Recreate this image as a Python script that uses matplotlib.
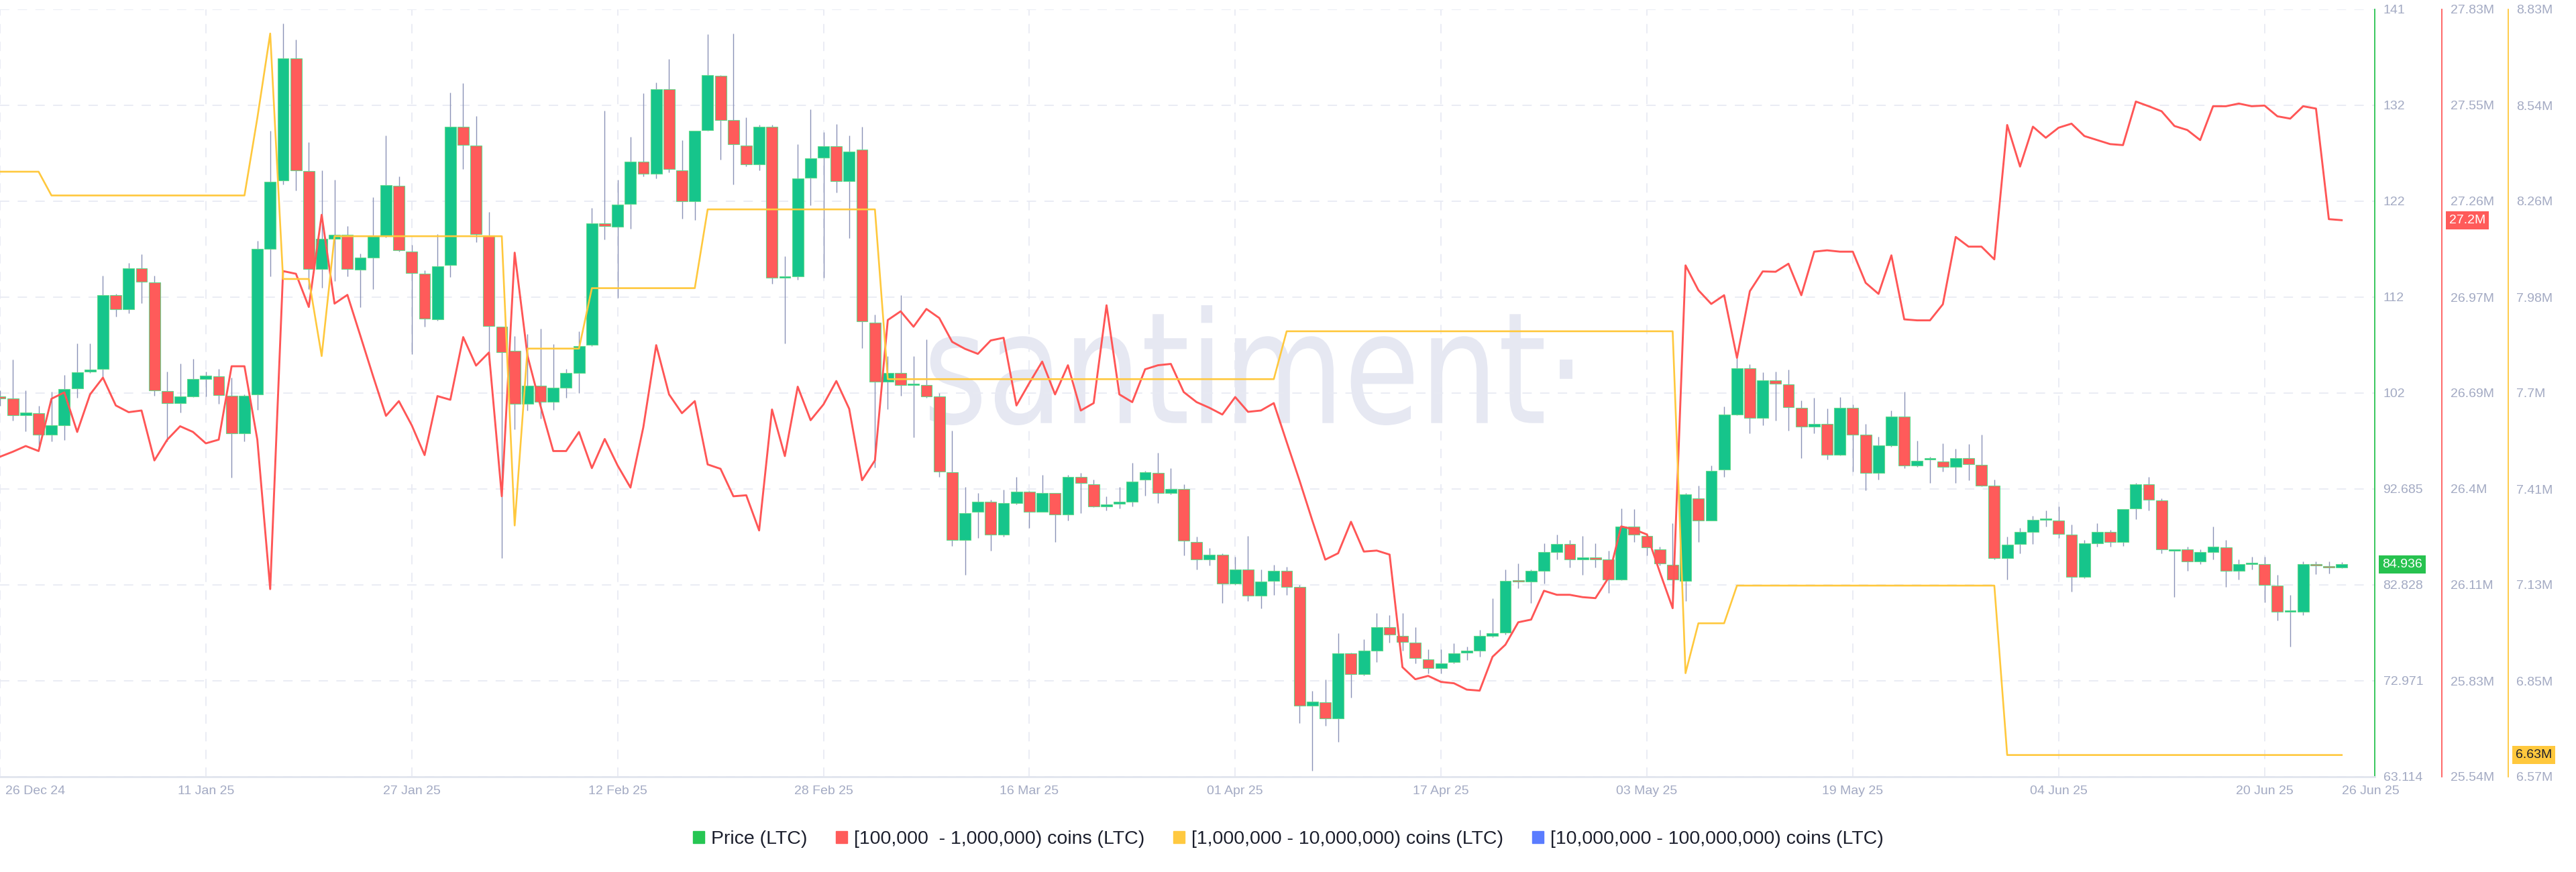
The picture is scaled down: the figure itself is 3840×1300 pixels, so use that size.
import matplotlib
matplotlib.use("Agg")
import matplotlib.pyplot as plt
import matplotlib.dates as mdates
import matplotlib.transforms as mtransforms
from matplotlib.patches import Patch, PathPatch
from matplotlib.textpath import TextPath
from matplotlib.font_manager import FontProperties
import numpy as np
import pandas as pd

# ---- data (daily, 26 Dec 24 .. 26 Jun 25) ----
dates = pd.date_range("2024-12-26", "2025-06-26", freq="D")

opens = [
    102.2, 102.0, 100.3, 100.5, 98.26, 99.21, 103.0, 104.77, 105.0, 112.6,
    111.17, 115.39, 113.9, 102.73, 101.5, 102.2, 103.96, 104.24, 102.24, 98.44,
    102.38, 117.33, 124.36, 136.95, 125.34, 115.32, 118.42, 118.84, 115.2, 116.48,
    118.66, 123.87, 117.08, 114.8, 110.15, 115.7, 129.9, 127.98, 118.77, 109.34,
    106.88, 101.43, 103.29, 101.68, 103.12, 104.6, 107.48, 120.0, 119.65, 122.0,
    126.3, 125.06, 133.79, 125.45, 122.29, 129.57, 135.12, 130.62, 127.98, 126.05,
    129.92, 114.4, 114.55, 124.64, 126.75, 127.88, 124.29, 127.53, 109.8, 103.72,
    104.6, 103.36, 103.36, 102.19, 94.42, 87.48, 90.36, 91.39, 87.99, 91.23,
    92.41, 90.36, 92.26, 90.1, 93.96, 93.14, 90.87, 91.2, 91.39, 93.65,
    94.32, 92.26, 92.67, 87.27, 85.42, 85.93, 83.0, 84.39, 81.71, 83.26,
    84.29, 82.59, 70.4, 70.76, 69.11, 75.8, 73.64, 76.06, 78.48, 77.6,
    76.93, 75.18, 74.26, 74.87, 75.9, 76.06, 77.6, 77.96, 83.26, 83.15,
    84.29, 86.24, 87.01, 85.47, 85.68, 85.42, 83.41, 88.82, 87.89, 86.5,
    84.9, 83.26, 91.75, 89.43, 94.68, 100.34, 105.12, 99.98, 103.84, 103.42,
    101.0, 99.1, 99.36, 96.22, 101.0, 98.28, 94.32, 97.15, 100.13, 95.09,
    95.7, 95.5, 94.99, 95.86, 95.19, 93.03, 85.57, 87.01, 88.3, 89.5,
    89.43, 87.99, 83.67, 87.12, 88.25, 87.22, 90.72, 93.14, 91.49, 86.35,
    86.45, 85.21, 86.24, 86.71, 84.29, 84.96, 84.96, 82.74, 80.07, 80.07,
    84.96, 84.75, 84.6,
]
highs = [
    102.8, 106.0, 102.84, 101.25, 102.66, 104.42, 107.65, 107.65, 114.6, 112.75,
    115.92, 116.8, 114.6, 104.77, 105.58, 106.07, 104.77, 105.0, 104.14, 102.4,
    118.2, 129.5, 140.54, 138.9, 128.33, 125.45, 124.47, 119.72, 116.9, 122.64,
    129.04, 124.82, 117.8, 115.15, 118.9, 133.4, 134.38, 131.04, 121.12, 109.4,
    108.39, 108.64, 109.17, 107.58, 105.0, 108.89, 121.58, 131.57, 124.47, 128.86,
    133.33, 134.49, 136.85, 128.51, 129.5, 139.41, 135.2, 139.52, 130.9, 130.1,
    130.1, 116.62, 128.09, 131.68, 129.39, 130.2, 129.04, 129.92, 110.64, 106.35,
    112.6, 106.35, 108.04, 102.55, 98.69, 92.88, 92.26, 91.6, 92.62, 93.91,
    92.5, 94.16, 92.26, 94.16, 94.32, 93.65, 91.9, 92.88, 95.35, 94.57,
    96.38, 94.83, 93.19, 87.79, 86.6, 86.09, 85.73, 87.89, 84.39, 84.91,
    84.7, 82.85, 71.94, 73.13, 77.86, 75.9, 77.24, 79.91, 79.76, 79.91,
    78.48, 76.21, 76.21, 76.83, 76.47, 78.22, 81.46, 84.39, 85.06, 84.39,
    87.12, 87.99, 87.48, 87.89, 87.12, 86.35, 90.72, 90.62, 88.15, 86.76,
    89.18, 92.26, 93.03, 95.09, 101.16, 106.15, 105.48, 104.71, 104.76, 104.97,
    101.78, 102.03, 100.99, 102.14, 101.37, 99.36, 98.07, 100.75, 102.7, 97.66,
    96.02, 97.4, 96.79, 97.3, 98.28, 93.65, 87.79, 88.66, 89.95, 90.46,
    90.87, 89.02, 87.48, 89.18, 88.5, 90.62, 93.29, 93.91, 91.75, 86.5,
    86.76, 86.45, 88.82, 87.48, 85.47, 85.73, 85.73, 83.88, 81.82, 85.21,
    85.21, 85.21, 85.16,
]
lows = [
    101.2, 99.7, 98.6, 96.86, 97.56, 97.74, 102.06, 104.6, 104.07, 110.4,
    110.75, 111.8, 102.3, 97.56, 100.55, 102.13, 102.2, 101.43, 93.87, 97.56,
    100.83, 114.55, 124.0, 123.37, 113.21, 113.39, 114.02, 114.51, 111.38, 113.21,
    118.5, 117.08, 106.53, 109.34, 110.0, 114.5, 125.59, 118.03, 105.47, 85.59,
    98.79, 100.73, 99.95, 100.83, 102.06, 102.56, 107.4, 118.31, 112.33, 119.44,
    124.8, 124.57, 125.24, 120.49, 120.35, 129.5, 126.5, 124.01, 125.87, 125.45,
    113.81, 107.65, 114.16, 121.83, 114.37, 123.16, 118.49, 107.13, 94.92, 100.9,
    102.3, 97.98, 102.06, 93.96, 86.86, 83.88, 87.63, 86.35, 87.8, 91.08,
    88.66, 90.36, 87.27, 89.43, 90.2, 90.8, 90.46, 90.72, 90.87, 92.0,
    91.23, 92.1, 85.83, 84.39, 84.8, 80.94, 82.85, 81.2, 80.43, 81.82,
    81.82, 68.6, 63.71, 68.34, 66.7, 71.27, 73.5, 74.87, 76.93, 76.06,
    74.77, 73.74, 73.74, 74.77, 75.13, 75.44, 77.45, 77.7, 82.49, 80.94,
    83.0, 85.42, 84.65, 83.88, 84.65, 81.97, 83.3, 87.27, 85.83, 84.8,
    81.2, 81.2, 87.27, 89.43, 93.96, 100.24, 98.43, 99.2, 99.72, 98.69,
    95.86, 98.43, 95.71, 96.12, 94.47, 92.52, 93.65, 97.0, 94.83, 94.99,
    93.29, 94.47, 93.29, 93.55, 92.93, 85.42, 83.36, 86.09, 87.01, 88.82,
    87.63, 82.13, 83.52, 86.76, 86.76, 86.86, 89.58, 90.46, 86.09, 81.6,
    84.29, 84.96, 85.42, 82.59, 83.36, 84.39, 81.05, 79.15, 76.47, 79.76,
    83.93, 84.03, 84.55,
]
closes = [
    102.0, 100.3, 100.55, 98.26, 99.21, 102.94, 104.7, 104.98, 112.6, 111.17,
    115.39, 113.98, 102.84, 101.5, 102.2, 103.96, 104.3, 102.31, 98.44, 102.3,
    117.33, 124.25, 136.95, 125.45, 115.32, 118.38, 118.84, 115.32, 116.48, 118.66,
    123.94, 117.19, 114.9, 110.2, 115.6, 129.9, 128.05, 118.91, 109.45, 106.77,
    101.43, 103.29, 101.68, 103.12, 104.6, 107.34, 120.0, 119.72, 121.93, 126.3,
    125.1, 133.79, 125.59, 122.29, 129.46, 135.19, 130.62, 128.09, 126.05, 129.92,
    114.37, 114.55, 124.57, 126.68, 127.88, 124.29, 127.38, 109.94, 103.72, 104.6,
    103.36, 103.45, 102.2, 94.47, 87.48, 90.2, 91.39, 87.99, 91.23, 92.41,
    90.36, 92.26, 90.1, 93.96, 93.29, 90.87, 91.08, 91.3, 93.44, 94.42,
    92.26, 92.67, 87.38, 85.42, 85.93, 83.0, 84.39, 81.71, 83.15, 84.29,
    82.64, 70.4, 70.81, 69.11, 75.8, 73.64, 76.06, 78.48, 77.76, 76.98,
    75.29, 74.26, 74.77, 75.8, 76.0, 77.6, 77.86, 83.26, 83.15, 84.29,
    86.19, 87.01, 85.47, 85.68, 85.47, 83.41, 88.82, 87.99, 86.71, 85.06,
    83.36, 92.1, 89.43, 94.57, 100.34, 105.12, 99.98, 103.84, 103.48, 101.11,
    99.1, 99.36, 96.22, 101.0, 98.28, 94.32, 97.15, 100.13, 95.09, 95.6,
    95.72, 94.99, 95.86, 95.24, 93.03, 85.57, 86.96, 88.3, 89.53, 89.55,
    88.04, 83.67, 87.12, 88.25, 87.22, 90.62, 93.14, 91.59, 86.45, 86.45,
    85.21, 86.24, 86.76, 84.29, 84.96, 85.06, 82.85, 80.07, 80.12, 84.96,
    84.8, 84.6, 84.936,
]

# [100,000 - 1,000,000) coins holders balance, millions LTC
holders_100k_1m = [
    26.495, 26.510, 26.527, 26.512, 26.668, 26.687, 26.569, 26.681, 26.731, 26.648,
    26.628, 26.633, 26.484, 26.546, 26.586, 26.569, 26.535, 26.546, 26.765, 26.765,
    26.546, 26.100, 27.049, 27.041, 26.942, 27.217, 26.952, 26.978, 26.857, 26.735,
    26.617, 26.661, 26.589, 26.500, 26.676, 26.665, 26.852, 26.767, 26.806, 26.377,
    27.104, 26.796, 26.648, 26.512, 26.512, 26.569, 26.461, 26.548, 26.469, 26.403,
    26.583, 26.828, 26.681, 26.625, 26.661, 26.472, 26.459, 26.377, 26.380, 26.275,
    26.636, 26.497, 26.704, 26.604, 26.651, 26.721, 26.638, 26.425, 26.484, 26.903,
    26.929, 26.883, 26.936, 26.909, 26.838, 26.817, 26.802, 26.842, 26.850, 26.648,
    26.715, 26.779, 26.681, 26.768, 26.633, 26.655, 26.947, 26.681, 26.658, 26.756,
    26.768, 26.772, 26.688, 26.658, 26.641, 26.621, 26.673, 26.629, 26.633, 26.655,
    26.539, 26.424, 26.304, 26.188, 26.207, 26.301, 26.212, 26.215, 26.203, 25.867,
    25.831, 25.841, 25.823, 25.819, 25.800, 25.797, 25.898, 25.934, 26.001, 26.009,
    26.095, 26.083, 26.083, 26.076, 26.073, 26.133, 26.287, 26.278, 26.263, 26.151,
    26.043, 27.066, 26.992, 26.951, 26.977, 26.790, 26.989, 27.048, 27.047, 27.071,
    26.977, 27.107, 27.111, 27.107, 27.107, 27.014, 26.981, 27.096, 26.905, 26.902,
    26.902, 26.950, 27.151, 27.122, 27.122, 27.084, 27.485, 27.361, 27.480, 27.447,
    27.477, 27.489, 27.452, 27.440, 27.428, 27.425, 27.555, 27.541, 27.526, 27.482,
    27.470, 27.440, 27.541, 27.541, 27.549, 27.541, 27.543, 27.511, 27.504, 27.541,
    27.534, 27.204, 27.201,
]

# [1,000,000 - 10,000,000) coins holders balance, millions LTC
holders_1m_10m = [
    8.352, 8.352, 8.352, 8.352, 8.282, 8.282, 8.282, 8.282, 8.282, 8.282,
    8.282, 8.282, 8.282, 8.282, 8.282, 8.282, 8.282, 8.282, 8.282, 8.282,
    8.510, 8.759, 8.036, 8.036, 8.036, 7.809, 8.162, 8.162, 8.162, 8.162,
    8.162, 8.162, 8.162, 8.162, 8.162, 8.162, 8.162, 8.162, 8.162, 8.162,
    7.310, 7.831, 7.831, 7.831, 7.831, 7.831, 8.009, 8.009, 8.009, 8.009,
    8.009, 8.009, 8.009, 8.009, 8.009, 8.241, 8.241, 8.241, 8.241, 8.241,
    8.241, 8.241, 8.241, 8.241, 8.241, 8.241, 8.241, 8.241, 8.241, 7.741,
    7.741, 7.741, 7.741, 7.741, 7.741, 7.741, 7.741, 7.741, 7.741, 7.741,
    7.741, 7.741, 7.741, 7.741, 7.741, 7.741, 7.741, 7.741, 7.741, 7.741,
    7.741, 7.741, 7.741, 7.741, 7.741, 7.741, 7.741, 7.741, 7.741, 7.741,
    7.882, 7.882, 7.882, 7.882, 7.882, 7.882, 7.882, 7.882, 7.882, 7.882,
    7.882, 7.882, 7.882, 7.882, 7.882, 7.882, 7.882, 7.882, 7.882, 7.882,
    7.882, 7.882, 7.882, 7.882, 7.882, 7.882, 7.882, 7.882, 7.882, 7.882,
    7.882, 6.875, 7.022, 7.022, 7.022, 7.133, 7.133, 7.133, 7.133, 7.133,
    7.133, 7.133, 7.133, 7.133, 7.133, 7.133, 7.133, 7.133, 7.133, 7.133,
    7.133, 7.133, 7.133, 7.133, 7.133, 7.133, 6.634, 6.634, 6.634, 6.634,
    6.634, 6.634, 6.634, 6.634, 6.634, 6.634, 6.634, 6.634, 6.634, 6.634,
    6.634, 6.634, 6.634, 6.634, 6.634, 6.634, 6.634, 6.634, 6.634, 6.634,
    6.634, 6.634, 6.634,
]

price_labels = ["63.114", "72.971", "82.828", "92.685", "102", "112", "122", "132", "141"]
red_labels = ["25.54M", "25.83M", "26.11M", "26.4M", "26.69M", "26.97M", "27.26M", "27.55M", "27.83M"]
yellow_labels = ["6.57M", "6.85M", "7.13M", "7.41M", "7.7M", "7.98M", "8.26M", "8.54M", "8.83M"]
date_ticks = ["2024-12-26", "2025-01-11", "2025-01-27", "2025-02-12", "2025-02-28", "2025-03-16",
              "2025-04-01", "2025-04-17", "2025-05-03", "2025-05-19", "2025-06-04", "2025-06-20",
              "2025-06-26"]

legend_labels = ["Price (LTC)", "[100,000  - 1,000,000) coins (LTC)",
                 "[1,000,000 - 10,000,000) coins (LTC)", "[10,000,000 - 100,000,000) coins (LTC)"]

# ---- style ----
C_UP = "#16c58b"
C_DOWN = "#ff5b5a"
C_EDGE = "#62d98c"
C_WICK = "#8a92b7"
C_RED = "#ff5656"
C_YEL = "#ffc83d"
C_BLUE = "#5a7cff"
C_PRICE_AX = "#27c24f"
C_GRID = "#e8eaf3"
C_TICK = "#a3aac3"

plt.rcParams["font.family"] = ["Liberation Sans", "DejaVu Sans"]
plt.rcParams["lines.scale_dashes"] = False

W, H = 3840, 1300
fig = plt.figure(figsize=(W / 100, H / 100), dpi=100, facecolor="white")
ax = fig.add_axes([0, 1 - 1158 / H, 3540 / W, (1158 - 14) / H])
axr = ax.twinx()
axy = ax.twinx()
ax.patch.set_alpha(0)

x = mdates.date2num(dates)
o, h, l, c = map(np.array, (opens, highs, lows, closes))
up = c >= o
body_lo = np.minimum(o, c)
body_h = np.maximum(np.abs(c - o), 0.15)

# candles
ax.vlines(x, l, h, color=C_WICK, lw=1.0, zorder=2)
ax.bar(x, body_h, bottom=body_lo, width=0.88, color=np.where(up, C_UP, C_DOWN),
       edgecolor=C_EDGE, linewidth=0.8, zorder=3)

# holder lines
axr.plot(x, holders_100k_1m, color=C_RED, lw=2.1, zorder=3)
axy.plot(x, holders_1m_10m, color=C_YEL, lw=1.9, zorder=3)

# limits
ax.set_xlim(x[0], x[0] + 3540 / 19.18)
ax.set_ylim(63.114, 63.114 + 8 * 9.857)
axr.set_ylim(25.54, 27.83)
axy.set_ylim(6.57, 8.83)

# x ticks / grid
xt = mdates.date2num(pd.to_datetime(date_ticks))
ax.set_xticks(xt)
ax.set_xticklabels([pd.Timestamp(d).strftime("%d %b %y") for d in date_ticks])
ax.tick_params(axis="x", length=0, pad=9, labelsize=14, labelcolor=C_TICK)
lbls = ax.get_xticklabels()
lbls[0].set_ha("left")
lbls[0].set_transform(lbls[0].get_transform() + mtransforms.ScaledTranslation(8 / 100, 0, fig.dpi_scale_trans))
lbls[-1].set_ha("left")
for v in xt[:-1]:
    ax.axvline(v, color=C_GRID, lw=1.3, ls=(0, (10, 9)), zorder=0.5)

# y ticks
ax.set_yticks(np.linspace(63.114, 63.114 + 8 * 9.857, 9))
ax.set_yticklabels(price_labels)
ax.yaxis.tick_right()
ax.tick_params(axis="y", length=0, pad=9, labelsize=14, labelcolor=C_TICK)
ax.grid(axis="y", color=C_GRID, lw=1.3, ls=(0, (10, 9)))
ax.set_axisbelow(True)

axr.set_yticks(np.linspace(25.54, 27.83, 9))
axr.set_yticklabels(red_labels)
axy.set_yticks(np.linspace(6.57, 8.83, 9))
axy.set_yticklabels(yellow_labels)
for a in (axr, axy):
    a.tick_params(axis="y", length=0, pad=9, labelsize=14, labelcolor=C_TICK)

# spines
for s in ("left", "top"):
    ax.spines[s].set_visible(False)
ax.spines["bottom"].set_color("#e1e5ee")
ax.spines["bottom"].set_linewidth(2)
ax.spines["right"].set_color(C_PRICE_AX)
ax.spines["right"].set_linewidth(1.3)
for a, pos, col in ((axr, 100, C_DOWN), (axy, 199, C_YEL)):
    for s in ("left", "top", "bottom"):
        a.spines[s].set_visible(False)
    a.spines["right"].set_position(("axes", 1 + pos / 3540))
    a.spines["right"].set_color(col)
    a.spines["right"].set_linewidth(1.3)

# last-value badges
def badge(axis, off, val, txt, fc, tc):
    tr = mtransforms.blended_transform_factory(ax.transAxes, axis.transData)
    axis.text(1 + off / 3540, val, txt, transform=tr, ha="left", va="center",
              fontsize=14, color=tc, clip_on=False, zorder=10,
              bbox=dict(boxstyle="square,pad=0.25", fc=fc, ec="none"))

badge(ax, 11, closes[-1], f"{closes[-1]:.3f}", C_PRICE_AX, "white")
badge(axr, 111, holders_100k_1m[-1], f"{holders_100k_1m[-1]:.1f}M", C_DOWN, "white")
badge(axy, 210, holders_1m_10m[-1], f"{holders_1m_10m[-1]:.2f}M", C_YEL, "#1d1f2b")

# watermark
tp = TextPath((0, 0), "santiment·", size=1, prop=FontProperties(family="DejaVu Sans"))
bb = tp.get_extents()
x0, x1 = 1386 / W, 2344 / W
y0, y1 = 1 - 634 / H, 1 - 455 / H
wm_tr = (mtransforms.Affine2D().translate(-bb.x0, -bb.y0)
         .scale((x1 - x0) / bb.width, (y1 - y0) / bb.height)
         .translate(x0, y0) + fig.transFigure)
fig.add_artist(PathPatch(tp, transform=wm_tr, fc="#e6e8f2", ec="none", zorder=-1))

# legend
handles = [Patch(color=col) for col in ("#26c653", C_DOWN, "#ffc940", C_BLUE)]
fig.legend(handles, legend_labels, loc="center", bbox_to_anchor=(0.5, 1 - 1251 / H),
           ncol=4, frameon=False, fontsize=20.5, handlelength=0.6, handleheight=0.6,
           handletextpad=0.35, columnspacing=1.5, labelcolor="#1b1e2c")

fig.savefig("out.png", dpi=100, facecolor="white")
